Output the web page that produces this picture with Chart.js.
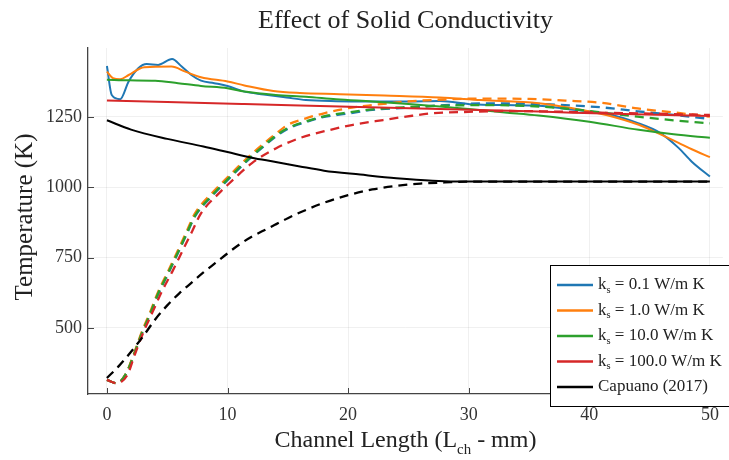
<!DOCTYPE html>
<html>
<head>
<meta charset="utf-8">
<script src="https://cdn.jsdelivr.net/npm/chart.js"></script>
<style>
  html, body { margin: 0; padding: 0; background: #fff; }
  #wrap { width: 729px; height: 460px; }
</style>
</head>
<body>
<div id="wrap"><canvas id="chart" width="729" height="460"></canvas></div>
<script>
// gas temperature (solid lines), one per solid conductivity
const xK01 = [0,0.4,1.1,1.8,2.6,3.3,4.25,5.4,6.2,7,7.8,8.9,10,11.4,13,14.9,16.5,19,22,25,27.6,30.3,33,35.8,38.5,41.4,44.1,45.8,47.4,48.5,50];
const tK01 = [1431,1328,1313,1376,1423,1438,1435,1456,1429,1399,1379,1370,1360,1340,1330,1319,1310,1306,1305,1305,1307,1295,1292,1290,1276,1261,1227,1195,1140,1091,1038];
const xK1 = [0,0.5,1.1,1.8,3.1,5.35,6.5,7.8,10,11.4,13.8,16,19.3,23,27.6,31,35.8,38.5,41.4,44.1,45.5,47.4,48.5,50];
const tK1 = [1411,1388,1384,1399,1427,1429,1411,1391,1376,1362,1342,1335,1331,1326,1319,1310,1299,1282,1257,1222,1196,1158,1135,1107];
const xK10 = [0,1.8,4,5.9,7.8,10,11.4,14,16.5,19,22,25,27.6,30,33,35.8,40,44.1,47,50];
const tK10 = [1382,1380,1379,1370,1360,1352,1340,1328,1322,1313,1305,1296,1287,1278,1266,1255,1233,1204,1188,1176];
const xK100 = [0,5,11.4,19.3,27.6,35.8,42,50];
const tK100 = [1308,1303,1296,1287,1278,1269,1261,1253];

// solid temperature (dashed lines)
const xSolid = [0,0.8,1.6,2.2,2.9,3.6,4.25,5,5.9,6.6,7.3,8.7,10,11,12,13,14,15,16.5,18,20,22,25,28,31,35,38,41,44,47,50];
const sK01 = [315,303,338,400,480,550,620,686,767,832,896,968,1025,1068,1108,1145,1180,1208,1232,1250,1262,1275,1283,1292,1298,1297,1292,1284,1270,1257,1243];
const sK1 = [315,303,340,404,487,558,629,695,777,842,907,979,1035,1078,1118,1155,1190,1222,1245,1263,1281,1292,1305,1312,1315,1314,1308,1300,1280,1266,1251];
const sK10 = [315,303,338,401,482,552,623,689,770,835,899,971,1028,1071,1111,1148,1183,1210,1234,1252,1266,1277,1285,1290,1292,1289,1280,1266,1251,1238,1227];
const xS100 = [0,0.8,1.7,2.3,3.05,3.8,4.55,5.42,6.3,7.05,7.8,9.3,10,12,14,16,18.5,20.4,22.9,24.8,27,30,33,36,40,45,50];
const sK100 = [315,303,333,404,487,558,629,700,777,842,907,979,1008,1085,1138,1175,1204,1222,1239,1251,1263,1268,1271,1270,1266,1262,1257];

// Capuano (2017) reference
const xCap = [0,2,5,8,10,12,14,16,18,21,24,27,30,35,40,45,50];
const tCap = [1238,1205,1172,1145,1125,1105,1090,1074,1059,1045,1032,1023,1020,1020,1020,1020,1020];
const xCapS = [0,1,2,3,4,5,6,7,8,9,10,11,12,13,14,15,16,18,20,22,24,26,28,30,35,40,45,50];
const tCapS = [322,365,415,470,530,580,623,660,697,731,765,797,824,846,868,890,910,945,972,992,1005,1013,1017,1020,1020,1020,1020,1020];

const ksValues = ['0.1','1.0','10.0','100.0'];
const colors = ['#1f77b4','#ff7f0e','#2ca02c','#d62728','#000000'];
const xTicks = [0,10,20,30,40,50];
const yTicks = [500,750,1000,1250];

const FONT = '"Liberation Serif", "DejaVu Serif", serif';

function pts(xs, ys){ return xs.map((x,i)=>({x:x, y:ys[i]})); }

const series = [
  [xK01,tK01,xSolid,sK01],
  [xK1,tK1,xSolid,sK1],
  [xK10,tK10,xSolid,sK10],
  [xK100,tK100,xS100,sK100],
  [xCap,tCap,xCapS,tCapS]
];

let datasets = [];
series.forEach((s,i)=>{
  datasets.push({data:pts(s[0],s[1]), borderColor:colors[i], borderWidth:2});
  datasets.push({data:pts(s[2],s[3]), borderColor:colors[i], borderWidth:2.3, borderDash:[9,6]});
});
const N = datasets.length;
datasets.forEach((d,i)=>{
  d.order = N - i;
  d.pointRadius = 0;
  d.fill = false;
  d.cubicInterpolationMode = 'monotone';
});

function drawParts(ctx, parts, x, y, size){
  parts.forEach(p=>{
    if(p.sub){
      ctx.font = (size*0.62)+'px '+FONT;
      ctx.fillText(p.t, x, y + size*0.28);
    } else {
      ctx.font = size+'px '+FONT;
      ctx.fillText(p.t, x, y);
    }
    x += ctx.measureText(p.t).width;
  });
}
function partsWidth(ctx, parts, size){
  let w = 0;
  parts.forEach(p=>{
    ctx.font = (p.sub ? size*0.62 : size)+'px '+FONT;
    w += ctx.measureText(p.t).width;
  });
  return w;
}

const decor = {
  id:'decor',
  afterDraw(chart){
    const {ctx, chartArea:a, scales} = chart;
    ctx.save();
    // inward tick marks
    ctx.strokeStyle = '#444'; ctx.lineWidth = 1;
    xTicks.forEach(v=>{
      const px = Math.round(scales.x.getPixelForValue(v))+0.5;
      ctx.beginPath(); ctx.moveTo(px, a.bottom); ctx.lineTo(px, a.bottom-6); ctx.stroke();
    });
    yTicks.forEach(v=>{
      const py = Math.round(scales.y.getPixelForValue(v))+0.5;
      ctx.beginPath(); ctx.moveTo(a.left, py); ctx.lineTo(a.left+6, py); ctx.stroke();
    });

    // title
    ctx.fillStyle = '#222';
    ctx.textBaseline = 'alphabetic';
    ctx.textAlign = 'center';
    ctx.font = '26px '+FONT;
    ctx.fillText('Effect of Solid Conductivity', (a.left+a.right)/2, 28);

    // x axis title with subscript
    ctx.textAlign = 'left';
    const xt = [{t:'Channel Length (L'},{t:'ch',sub:true},{t:' - mm)'}];
    const w = partsWidth(ctx, xt, 24);
    drawParts(ctx, xt, (a.left+a.right)/2 - w/2, 447, 24);

    // y axis title
    ctx.save();
    ctx.translate(32, 217);
    ctx.rotate(-Math.PI/2);
    ctx.textAlign = 'center';
    ctx.font = '25px '+FONT;
    ctx.fillText('Temperature (K)', 0, 0);
    ctx.restore();

    // legend box
    const lx = 550, ly = 265, lw = 200, lh = 141;
    ctx.fillStyle = '#fff';
    ctx.fillRect(lx, ly, lw, lh);
    ctx.strokeStyle = '#000'; ctx.lineWidth = 1;
    ctx.strokeRect(lx+0.5, ly+0.5, lw, lh);
    const labels = ksValues.map(v=>[{t:'k'},{t:'s',sub:true},{t:' = '+v+' W/m K'}]);
    labels.push([{t:'Capuano (2017)'}]);
    ctx.textAlign = 'left';
    ctx.textBaseline = 'middle';
    labels.forEach((lab,i)=>{
      const yy = 285 + i*25.5;
      ctx.strokeStyle = colors[i]; ctx.lineWidth = 2.5;
      ctx.beginPath(); ctx.moveTo(557, yy); ctx.lineTo(593, yy); ctx.stroke();
      ctx.fillStyle = '#222';
      drawParts(ctx, lab, 598, yy, 17);
    });
    ctx.restore();
  }
};

new Chart(document.getElementById('chart'), {
  type:'line',
  data:{datasets:datasets},
  options:{
    responsive:false,
    animation:false,
    layout:{padding:{left:0, right:5, top:48, bottom:0}},
    plugins:{legend:{display:false}, tooltip:{enabled:false}, title:{display:false}},
    scales:{
      x:{
        type:'linear', min:-1.57, max:51.08,
        afterBuildTicks(s){ s.ticks = xTicks.map(v=>({value:v})); },
        afterFit(s){ s.height = 66; },
        grid:{color:'rgba(0,0,0,0.06)', drawTicks:false},
        border:{display:true, color:'#444', width:1.3},
        ticks:{padding:10, color:'#333', font:{family:FONT, size:18}, callback:v=>String(v), maxRotation:0}
      },
      y:{
        type:'linear', min:265, max:1495,
        afterBuildTicks(s){ s.ticks = yTicks.map(v=>({value:v})); },
        afterFit(s){ s.width = 88; },
        grid:{color:'rgba(0,0,0,0.06)', drawTicks:false},
        border:{display:true, color:'#444', width:1.3},
        ticks:{padding:6, color:'#333', font:{family:FONT, size:18}, callback:v=>String(v)}
      }
    }
  },
  plugins:[decor]
});
</script>
</body>
</html>
